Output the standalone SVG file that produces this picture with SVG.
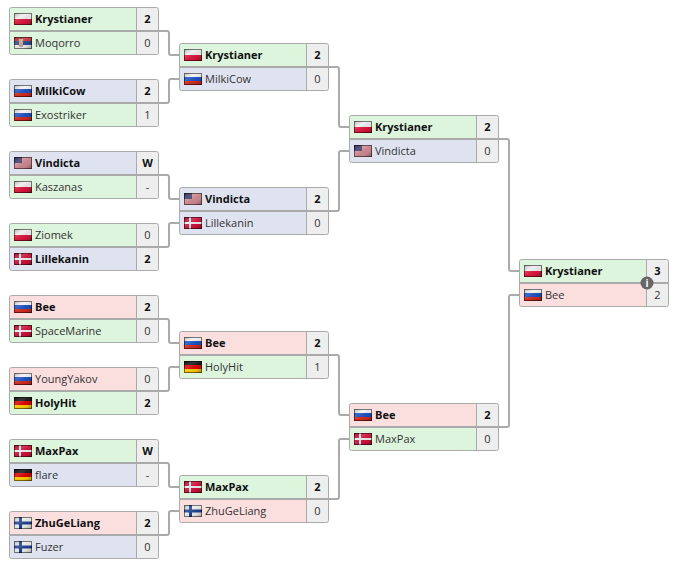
<svg xmlns="http://www.w3.org/2000/svg" width="684" height="585" viewBox="0 0 684 585">
<style>
text{font-family:"Open Sans","Noto Sans","DejaVu Sans",sans-serif;font-size:11px;fill:#333}
.b{font-weight:700;fill:#111}
.s{text-anchor:middle;font-size:11px}
.g{fill:#ddf4dd}.u{fill:#dfe3f0}.r{fill:#fbdfdf}.e{fill:#eee}
.o{fill:none;stroke:#aaa;stroke-width:1}
.d{stroke:#aaa;stroke-width:2}
.v{stroke:#aaa;stroke-width:1}
.f{fill:url(#sh)}
.k{fill:none;stroke:#000;stroke-opacity:.5}
#conn path{fill:none;stroke:#aaa;stroke-width:2}
</style>
<defs>
<linearGradient id="sh" x1="0" y1="0" x2="1" y2="1"><stop offset="0" stop-color="#000" stop-opacity=".28"/><stop offset=".35" stop-color="#fff" stop-opacity=".15"/><stop offset=".7" stop-color="#000" stop-opacity=".05"/><stop offset="1" stop-color="#000" stop-opacity=".35"/></linearGradient>
<symbol id="pl" width="18" height="12"><rect width="18" height="6" fill="#eee"/><rect y="6" width="18" height="6" fill="#dc143c"/><rect class="f" width="18" height="12"/><rect class="k" x=".5" y=".5" width="17" height="11"/></symbol>
<symbol id="ru" width="18" height="12"><rect width="18" height="4" fill="#f2f2f2"/><rect y="4" width="18" height="4" fill="#1a4fc0"/><rect y="8" width="18" height="4" fill="#d52b1e"/><rect class="f" width="18" height="12"/><rect class="k" x=".5" y=".5" width="17" height="11"/></symbol>
<symbol id="rs" width="18" height="12"><rect width="18" height="4" fill="#c6363c"/><rect y="4" width="18" height="4" fill="#2a4a8c"/><rect y="8" width="18" height="4" fill="#eee"/><rect x="5" y="2" width="4" height="8" fill="#c9a08c"/><rect class="f" width="18" height="12"/><rect class="k" x=".5" y=".5" width="17" height="11"/></symbol>
<symbol id="us" width="18" height="12"><rect width="18" height="12" fill="#eee"/><path d="M0 1h18M0 3h18M0 5h18M0 7h18M0 9h18M0 11h18" stroke="#b22234"/><rect width="8" height="6" fill="#3c3b6e"/><rect class="f" width="18" height="12"/><rect class="k" x=".5" y=".5" width="17" height="11"/></symbol>
<symbol id="dk" width="18" height="12"><rect width="18" height="12" fill="#d0103a"/><rect x="5" width="2" height="12" fill="#eee"/><rect y="5" width="18" height="2" fill="#eee"/><rect class="f" width="18" height="12"/><rect class="k" x=".5" y=".5" width="17" height="11"/></symbol>
<symbol id="de" width="18" height="12"><rect width="18" height="4" fill="#111"/><rect y="4" width="18" height="4" fill="#d00"/><rect y="8" width="18" height="4" fill="#fc0"/><rect class="f" width="18" height="12"/><rect class="k" x=".5" y=".5" width="17" height="11"/></symbol>
<symbol id="fi" width="18" height="12"><rect width="18" height="12" fill="#eee"/><rect x="5" width="3" height="12" fill="#1a3f8c"/><rect y="4.500" width="18" height="3" fill="#1a3f8c"/><rect class="f" width="18" height="12"/><rect class="k" x=".5" y=".5" width="17" height="11"/></symbol>
</defs>
<g id="conn">
<path d="M158 31h9a2 2 0 0 1 2 2v20a2 2 0 0 0 2 2h8M158 103h9a2 2 0 0 0 2-2V81a2 2 0 0 1 2-2h8M158 175h9a2 2 0 0 1 2 2v20a2 2 0 0 0 2 2h8M158 247h9a2 2 0 0 0 2-2v-20a2 2 0 0 1 2-2h8M158 319h9a2 2 0 0 1 2 2v20a2 2 0 0 0 2 2h8M158 391h9a2 2 0 0 0 2-2v-20a2 2 0 0 1 2-2h8M158 463h9a2 2 0 0 1 2 2v20a2 2 0 0 0 2 2h8M158 535h9a2 2 0 0 0 2-2v-20a2 2 0 0 1 2-2h8"/>
<path d="M328 67h9a2 2 0 0 1 2 2v56a2 2 0 0 0 2 2h8M328 211h9a2 2 0 0 0 2-2v-56a2 2 0 0 1 2-2h8M328 355h9a2 2 0 0 1 2 2v56a2 2 0 0 0 2 2h8M328 499h9a2 2 0 0 0 2-2v-56a2 2 0 0 1 2-2h8"/>
<path d="M498 139h9a2 2 0 0 1 2 2v128a2 2 0 0 0 2 2h8M498 427h9a2 2 0 0 0 2-2V297a2 2 0 0 1 2-2h8"/>
</g>
<g id="m1"><rect class="g" x="10" y="8" width="127" height="23"/><rect class="g" x="10" y="32" width="127" height="22"/><rect class="e" x="137" y="8" width="21" height="46"/><path class="d" d="M10 31h148"/><path class="v" d="M136.500 8v46"/><rect class="o" x="9.500" y="7.500" width="149" height="47" rx="2"/><use href="#pl" x="14" y="13"/><use href="#rs" x="14" y="37"/><text class="b" x="35" y="23">Krystianer</text><text x="35" y="47">Moqorro</text><text class="s b" x="147.500" y="23">2</text><text class="s" x="147.500" y="47">0</text></g>
<g id="m2"><rect class="u" x="10" y="80" width="127" height="23"/><rect class="g" x="10" y="104" width="127" height="22"/><rect class="e" x="137" y="80" width="21" height="46"/><path class="d" d="M10 103h148"/><path class="v" d="M136.500 80v46"/><rect class="o" x="9.500" y="79.500" width="149" height="47" rx="2"/><use href="#ru" x="14" y="85"/><use href="#ru" x="14" y="109"/><text class="b" x="35" y="95">MilkiCow</text><text x="35" y="119">Exostriker</text><text class="s b" x="147.500" y="95">2</text><text class="s" x="147.500" y="119">1</text></g>
<g id="m3"><rect class="u" x="10" y="152" width="127" height="23"/><rect class="g" x="10" y="176" width="127" height="22"/><rect class="e" x="137" y="152" width="21" height="46"/><path class="d" d="M10 175h148"/><path class="v" d="M136.500 152v46"/><rect class="o" x="9.500" y="151.500" width="149" height="47" rx="2"/><use href="#us" x="14" y="157"/><use href="#pl" x="14" y="181"/><text class="b" x="35" y="167">Vindicta</text><text x="35" y="191">Kaszanas</text><text class="s b" x="147.500" y="167">W</text><text class="s" x="147.500" y="191">-</text></g>
<g id="m4"><rect class="g" x="10" y="224" width="127" height="23"/><rect class="u" x="10" y="248" width="127" height="22"/><rect class="e" x="137" y="224" width="21" height="46"/><path class="d" d="M10 247h148"/><path class="v" d="M136.500 224v46"/><rect class="o" x="9.500" y="223.500" width="149" height="47" rx="2"/><use href="#pl" x="14" y="229"/><use href="#dk" x="14" y="253"/><text x="35" y="239">Ziomek</text><text class="b" x="35" y="263">Lillekanin</text><text class="s" x="147.500" y="239">0</text><text class="s b" x="147.500" y="263">2</text></g>
<g id="m5"><rect class="r" x="10" y="296" width="127" height="23"/><rect class="g" x="10" y="320" width="127" height="22"/><rect class="e" x="137" y="296" width="21" height="46"/><path class="d" d="M10 319h148"/><path class="v" d="M136.500 296v46"/><rect class="o" x="9.500" y="295.500" width="149" height="47" rx="2"/><use href="#ru" x="14" y="301"/><use href="#dk" x="14" y="325"/><text class="b" x="35" y="311">Bee</text><text x="35" y="335">SpaceMarine</text><text class="s b" x="147.500" y="311">2</text><text class="s" x="147.500" y="335">0</text></g>
<g id="m6"><rect class="r" x="10" y="368" width="127" height="23"/><rect class="g" x="10" y="392" width="127" height="22"/><rect class="e" x="137" y="368" width="21" height="46"/><path class="d" d="M10 391h148"/><path class="v" d="M136.500 368v46"/><rect class="o" x="9.500" y="367.500" width="149" height="47" rx="2"/><use href="#ru" x="14" y="373"/><use href="#de" x="14" y="397"/><text x="35" y="383">YoungYakov</text><text class="b" x="35" y="407">HolyHit</text><text class="s" x="147.500" y="383">0</text><text class="s b" x="147.500" y="407">2</text></g>
<g id="m7"><rect class="g" x="10" y="440" width="127" height="23"/><rect class="u" x="10" y="464" width="127" height="22"/><rect class="e" x="137" y="440" width="21" height="46"/><path class="d" d="M10 463h148"/><path class="v" d="M136.500 440v46"/><rect class="o" x="9.500" y="439.500" width="149" height="47" rx="2"/><use href="#dk" x="14" y="445"/><use href="#de" x="14" y="469"/><text class="b" x="35" y="455">MaxPax</text><text x="35" y="479">flare</text><text class="s b" x="147.500" y="455">W</text><text class="s" x="147.500" y="479">-</text></g>
<g id="m8"><rect class="r" x="10" y="512" width="127" height="23"/><rect class="u" x="10" y="536" width="127" height="22"/><rect class="e" x="137" y="512" width="21" height="46"/><path class="d" d="M10 535h148"/><path class="v" d="M136.500 512v46"/><rect class="o" x="9.500" y="511.500" width="149" height="47" rx="2"/><use href="#fi" x="14" y="517"/><use href="#fi" x="14" y="541"/><text class="b" x="35" y="527">ZhuGeLiang</text><text x="35" y="551">Fuzer</text><text class="s b" x="147.500" y="527">2</text><text class="s" x="147.500" y="551">0</text></g>
<g id="m9"><rect class="g" x="180" y="44" width="127" height="23"/><rect class="u" x="180" y="68" width="127" height="22"/><rect class="e" x="307" y="44" width="21" height="46"/><path class="d" d="M180 67h148"/><path class="v" d="M306.500 44v46"/><rect class="o" x="179.500" y="43.500" width="149" height="47" rx="2"/><use href="#pl" x="184" y="49"/><use href="#ru" x="184" y="73"/><text class="b" x="205" y="59">Krystianer</text><text x="205" y="83">MilkiCow</text><text class="s b" x="317.500" y="59">2</text><text class="s" x="317.500" y="83">0</text></g>
<g id="m10"><rect class="u" x="180" y="188" width="127" height="23"/><rect class="u" x="180" y="212" width="127" height="22"/><rect class="e" x="307" y="188" width="21" height="46"/><path class="d" d="M180 211h148"/><path class="v" d="M306.500 188v46"/><rect class="o" x="179.500" y="187.500" width="149" height="47" rx="2"/><use href="#us" x="184" y="193"/><use href="#dk" x="184" y="217"/><text class="b" x="205" y="203">Vindicta</text><text x="205" y="227">Lillekanin</text><text class="s b" x="317.500" y="203">2</text><text class="s" x="317.500" y="227">0</text></g>
<g id="m11"><rect class="r" x="180" y="332" width="127" height="23"/><rect class="g" x="180" y="356" width="127" height="22"/><rect class="e" x="307" y="332" width="21" height="46"/><path class="d" d="M180 355h148"/><path class="v" d="M306.500 332v46"/><rect class="o" x="179.500" y="331.500" width="149" height="47" rx="2"/><use href="#ru" x="184" y="337"/><use href="#de" x="184" y="361"/><text class="b" x="205" y="347">Bee</text><text x="205" y="371">HolyHit</text><text class="s b" x="317.500" y="347">2</text><text class="s" x="317.500" y="371">1</text></g>
<g id="m12"><rect class="g" x="180" y="476" width="127" height="23"/><rect class="r" x="180" y="500" width="127" height="22"/><rect class="e" x="307" y="476" width="21" height="46"/><path class="d" d="M180 499h148"/><path class="v" d="M306.500 476v46"/><rect class="o" x="179.500" y="475.500" width="149" height="47" rx="2"/><use href="#dk" x="184" y="481"/><use href="#fi" x="184" y="505"/><text class="b" x="205" y="491">MaxPax</text><text x="205" y="515">ZhuGeLiang</text><text class="s b" x="317.500" y="491">2</text><text class="s" x="317.500" y="515">0</text></g>
<g id="m13"><rect class="g" x="350" y="116" width="127" height="23"/><rect class="u" x="350" y="140" width="127" height="22"/><rect class="e" x="477" y="116" width="21" height="46"/><path class="d" d="M350 139h148"/><path class="v" d="M476.500 116v46"/><rect class="o" x="349.500" y="115.500" width="149" height="47" rx="2"/><use href="#pl" x="354" y="121"/><use href="#us" x="354" y="145"/><text class="b" x="375" y="131">Krystianer</text><text x="375" y="155">Vindicta</text><text class="s b" x="487.500" y="131">2</text><text class="s" x="487.500" y="155">0</text></g>
<g id="m14"><rect class="r" x="350" y="404" width="127" height="23"/><rect class="g" x="350" y="428" width="127" height="22"/><rect class="e" x="477" y="404" width="21" height="46"/><path class="d" d="M350 427h148"/><path class="v" d="M476.500 404v46"/><rect class="o" x="349.500" y="403.500" width="149" height="47" rx="2"/><use href="#ru" x="354" y="409"/><use href="#dk" x="354" y="433"/><text class="b" x="375" y="419">Bee</text><text x="375" y="443">MaxPax</text><text class="s b" x="487.500" y="419">2</text><text class="s" x="487.500" y="443">0</text></g>
<g id="m15"><rect class="g" x="520" y="260" width="127" height="23"/><rect class="r" x="520" y="284" width="127" height="22"/><rect class="e" x="647" y="260" width="21" height="46"/><path class="d" d="M520 283h148"/><path class="v" d="M646.500 260v46"/><rect class="o" x="519.500" y="259.500" width="149" height="47" rx="2"/><use href="#pl" x="524" y="265"/><use href="#ru" x="524" y="289"/><text class="b" x="545" y="275">Krystianer</text><text x="545" y="299">Bee</text><text class="s b" x="657.500" y="275">3</text><text class="s" x="657.500" y="299">2</text><circle cx="647" cy="283" r="6.500" fill="#666"/><text x="647" y="287" text-anchor="middle" style="font-size:10px;font-weight:700;fill:#fff">i</text></g>
</svg>
